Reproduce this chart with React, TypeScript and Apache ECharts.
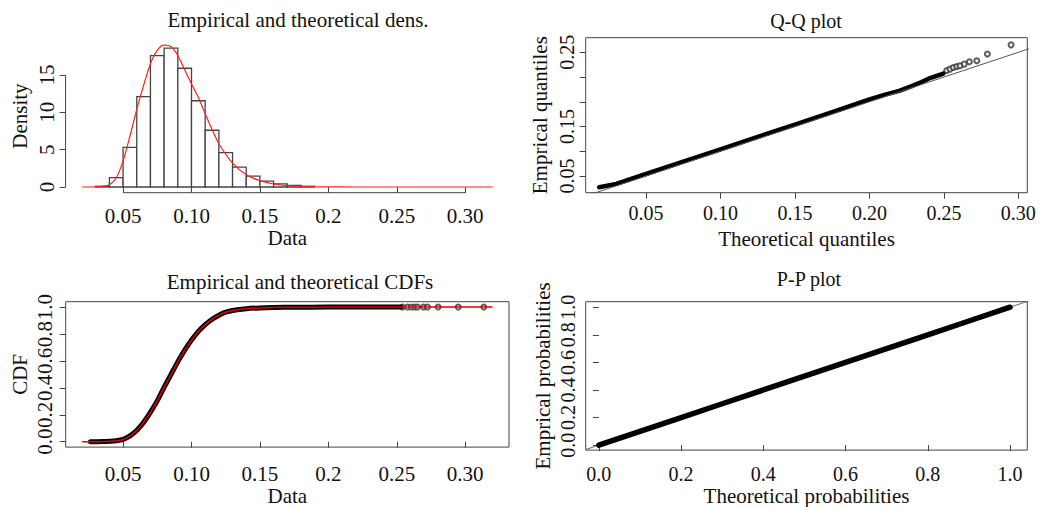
import React, { useEffect, useRef } from "react";
import * as echarts from "echarts";

const FONT = "Liberation Serif";

// ---------- Panel 1: histogram + density ----------
const histBinStart = [0.03, 0.04, 0.05, 0.06, 0.07, 0.08, 0.09, 0.10, 0.11, 0.12, 0.13, 0.14, 0.15, 0.16, 0.17, 0.18];
const histBinWidth = 0.01;
const histDensity = [0.1, 1.25, 5.3, 12.1, 17.6, 18.6, 15.9, 11.55, 7.6, 4.6, 2.65, 1.45, 0.78, 0.43, 0.22, 0.1];
const densCurveX = [0.02, 0.03, 0.035, 0.04, 0.045, 0.05, 0.055, 0.06, 0.065, 0.07, 0.075, 0.08, 0.085, 0.09, 0.095, 0.10, 0.105, 0.11, 0.115, 0.12, 0.13, 0.14, 0.15, 0.16, 0.17, 0.18, 0.19, 0.20, 0.22, 0.25, 0.32];
const densCurveY = [0, 0.03, 0.1, 0.3, 1.2, 3.5, 6.8, 10.4, 13.6, 16.5, 18.3, 19.0, 18.8, 17.6, 15.7, 13.8, 12.0, 9.8, 7.7, 5.8, 3.2, 1.65, 0.85, 0.4, 0.18, 0.08, 0.035, 0.015, 0.003, 0, 0];
const densXTicks = [0.05, 0.10, 0.15, 0.20, 0.25, 0.30];
const densXLabels = ["0.05", "0.10", "0.15", "0.2", "0.25", "0.30"];
const densYTicks = [0, 5, 10, 15];
const densYLabels = ["0", "5", "10", "15"];

// ---------- Panel 2: Q-Q ----------
const qqBandX = [0.0186, 0.03, 0.05, 0.075, 0.10, 0.125, 0.15, 0.175, 0.20, 0.21, 0.22, 0.228, 0.235, 0.2407, 0.2496];
const qqBandY = [0.0272, 0.034, 0.054, 0.079, 0.104, 0.129, 0.154, 0.179, 0.205, 0.214, 0.222, 0.231, 0.240, 0.248, 0.2571];
const qqTailX = [0.2519, 0.2541, 0.2563, 0.2586, 0.2608, 0.2637, 0.2671, 0.2721, 0.2792, 0.2951];
const qqTailY = [0.2632, 0.266, 0.2692, 0.2713, 0.2727, 0.2761, 0.2808, 0.2828, 0.2966, 0.315];
const qqLineX = [0.0, 0.35];
const qqLineY = [0.0, 0.35];
const qqXTicks = [0.05, 0.10, 0.15, 0.20, 0.25, 0.30];
const qqXLabels = ["0.05", "0.10", "0.15", "0.20", "0.25", "0.30"];
const qqYTicks = [0.05, 0.10, 0.15, 0.20, 0.25, 0.30];
// label positions as printed in the reference (top label sits at the last tick)
const qqYLabelValues = [0.05, 0.15, 0.30];
const qqYLabels = ["0.05", "0.15", "0.25"];

// ---------- Panel 3: CDF ----------
const cdfEmpX = [0.026, 0.035, 0.04, 0.045, 0.05, 0.055, 0.06, 0.065, 0.07, 0.075, 0.08, 0.085, 0.09, 0.095, 0.10, 0.105, 0.11, 0.115, 0.12, 0.125, 0.13, 0.14, 0.15, 0.16, 0.175, 0.20, 0.225, 0.253];
const cdfEmpY = [0, 0.001, 0.003, 0.007, 0.017, 0.043, 0.085, 0.145, 0.22, 0.305, 0.405, 0.5, 0.595, 0.68, 0.755, 0.82, 0.87, 0.91, 0.94, 0.962, 0.975, 0.988, 0.994, 0.997, 0.999, 1, 1, 1];
const cdfTailX = [0.2541, 0.2578, 0.2607, 0.2631, 0.2651, 0.2695, 0.2724, 0.2802, 0.2949, 0.3136];
const cdfTailY = [1, 1, 1, 1, 1, 1, 1, 1, 1, 1];
const cdfTheoX = [0.02, 0.03, 0.035, 0.04, 0.045, 0.05, 0.055, 0.06, 0.065, 0.07, 0.075, 0.08, 0.085, 0.09, 0.095, 0.10, 0.105, 0.11, 0.115, 0.12, 0.125, 0.13, 0.14, 0.15, 0.16, 0.175, 0.20, 0.32];
const cdfTheoY = [0, 0.0002, 0.001, 0.003, 0.007, 0.017, 0.043, 0.085, 0.145, 0.22, 0.305, 0.405, 0.5, 0.595, 0.68, 0.755, 0.82, 0.87, 0.91, 0.94, 0.962, 0.975, 0.988, 0.994, 0.997, 0.999, 1, 1];
const cdfYTicks = [0, 0.2, 0.4, 0.6, 0.8, 1.0];
const cdfYLabels = ["0.0", "0.2", "0.4", "0.6", "0.8", "1.0"];

// ---------- Panel 4: P-P ----------
const ppX = [0, 0.1, 0.2, 0.3, 0.4, 0.5, 0.6, 0.7, 0.8, 0.9, 1.0];
const ppY = [0, 0.1, 0.2, 0.3, 0.4, 0.5, 0.6, 0.7, 0.8, 0.9, 1.0];
const ppLineX = [-0.1, 1.1];
const ppLineY = [-0.1, 1.1];
const ppTicks = [0, 0.2, 0.4, 0.6, 0.8, 1.0];
const ppLabels = ["0.0", "0.2", "0.4", "0.6", "0.8", "1.0"];

const zip = (a: number[], b: number[]) => a.map((v, i) => [v, b[i]]);
const fmt = (ticks: number[], labels: string[]) => (v: number) => {
  const i = ticks.findIndex((t) => Math.abs(t - v) < 1e-9);
  return i >= 0 ? labels[i] : "";
};

const AXIS_COLOR = "#444";
const txt = (size: number) => ({ fontFamily: FONT, fontSize: size, color: "#111" });

function xAxis(grid: number, min: number, max: number, ticks: number[], labels: string[], margin: number, name: string, nameGap: number, size: number, nameSize: number) {
  return {
    type: "value", gridIndex: grid, min, max,
    splitLine: { show: false },
    axisLine: { show: false },
    axisTick: { show: true, customValues: ticks, length: 6, lineStyle: { color: AXIS_COLOR } },
    axisLabel: { customValues: ticks, formatter: fmt(ticks, labels), margin, ...txt(size) },
    name, nameLocation: "middle", nameGap, nameTextStyle: { ...txt(nameSize) },
  };
}
function yAxis(grid: number, min: number, max: number, ticks: number[], labelVals: number[], labels: string[], margin: number, name: string, nameGap: number, size: number, nameSize: number) {
  return {
    type: "value", gridIndex: grid, min, max,
    splitLine: { show: false },
    axisLine: { show: false },
    axisTick: { show: true, customValues: ticks, length: 6, lineStyle: { color: AXIS_COLOR } },
    axisLabel: { customValues: labelVals, formatter: fmt(labelVals, labels), margin, rotate: 90, ...txt(size) },
    name, nameLocation: "middle", nameGap, nameRotate: 90, nameTextStyle: { ...txt(nameSize) },
  };
}

export default function App() {
  const ref = useRef<HTMLDivElement>(null);
  useEffect(() => {
    if (!ref.current) return;
    const chart = echarts.init(ref.current, null, { renderer: "svg" });
    const densYMin = -0.76, densYMax = 19.76;
    const titleStyle = (text: string, size: number) => ({ text, align: "center", verticalAlign: "middle", font: `${size}px "${FONT}"`, fill: "#111" });
    const option: any = {
      animation: false,
      backgroundColor: "#fff",
      grid: [
        { left: 65.6, top: 39.4, width: 443.4, height: 153.3, show: false },
        { left: 585.7, top: 37.7, width: 441.6, height: 155, show: true, borderColor: AXIS_COLOR, borderWidth: 1 },
        { left: 65.7, top: 301.7, width: 443.3, height: 152.3, show: true, borderColor: AXIS_COLOR, borderWidth: 1 },
        { left: 585.7, top: 301.7, width: 441.6, height: 152.3, show: true, borderColor: AXIS_COLOR, borderWidth: 1 },
      ],
      xAxis: [
        xAxis(0, 0.008, 0.332, densXTicks, densXLabels, 13, "Data", 34, 21, 21),
        xAxis(1, 0.0095, 0.306, qqXTicks, qqXLabels, 10, "Theoretical quantiles", 36, 20, 21),
        xAxis(2, 0.008, 0.332, densXTicks, densXLabels, 16, "Data", 33, 21, 21),
        xAxis(3, -0.032, 1.042, ppTicks, ppLabels, 14, "Theoretical probabilities", 28, 20, 21),
      ],
      yAxis: [
        yAxis(0, densYMin, densYMax, densYTicks, densYTicks, densYLabels, 8, "Density", 35, 21, 21),
        yAxis(1, 0.0162, 0.3295, qqYTicks, qqYLabelValues, qqYLabels, 9, "Emprical quantiles", 35, 20, 21),
        yAxis(2, -0.04, 1.04, cdfYTicks, cdfYTicks, cdfYLabels, 10, "CDF", 35, 21, 21),
        yAxis(3, -0.036, 1.04, ppTicks, ppTicks, ppLabels, 8, "Emprical probabilities", 32, 20, 21),
      ],
      graphic: [
        { type: "text", x: 298, y: 20, style: titleStyle("Empirical and theoretical dens.", 21) },
        { type: "text", x: 806, y: 20.5, style: titleStyle("Q-Q plot", 20) },
        { type: "text", x: 300, y: 282, style: titleStyle("Empirical and theoretical CDFs", 21) },
        { type: "text", x: 809, y: 279, style: titleStyle("P-P plot", 20) },
      ],
      series: [
        {
          type: "custom", xAxisIndex: 0, yAxisIndex: 0,
          data: histBinStart.map((s, i) => [s, s + histBinWidth, histDensity[i]]),
          renderItem: (params: any, api: any) => {
            const p0 = api.coord([api.value(0), 0]);
            const p1 = api.coord([api.value(1), api.value(2)]);
            return {
              type: "rect",
              shape: { x: p0[0], y: p1[1], width: p1[0] - p0[0], height: p0[1] - p1[1] },
              style: { fill: "#fff", stroke: "#444", lineWidth: 1.3 },
            };
          },
        },
        {
          type: "line", xAxisIndex: 0, yAxisIndex: 0, data: zip(densCurveX, densCurveY),
          smooth: 0.3, showSymbol: false, lineStyle: { color: "#ff2020", width: 1.2 },
        },
        {
          type: "line", xAxisIndex: 0, yAxisIndex: 0, clip: false,
          data: [[densXTicks[0], densYMin], [densXTicks[densXTicks.length - 1], densYMin]],
          showSymbol: false, lineStyle: { color: AXIS_COLOR, width: 1 },
        },
        {
          type: "line", xAxisIndex: 0, yAxisIndex: 0, clip: false,
          data: [[0.008, densYTicks[0]], [0.008, densYTicks[densYTicks.length - 1]]],
          showSymbol: false, lineStyle: { color: AXIS_COLOR, width: 1 },
        },
        {
          type: "line", xAxisIndex: 1, yAxisIndex: 1, data: zip(qqBandX, qqBandY),
          showSymbol: false, lineStyle: { color: "#000", width: 4.5, cap: "round", join: "round" },
        },
        {
          type: "scatter", xAxisIndex: 1, yAxisIndex: 1, data: zip(qqTailX, qqTailY),
          symbol: "emptyCircle", symbolSize: 5, itemStyle: { color: "#333", borderWidth: 0.9 },
        },
        {
          type: "line", xAxisIndex: 1, yAxisIndex: 1, data: zip(qqLineX, qqLineY),
          showSymbol: false, lineStyle: { color: "#555", width: 1 },
        },
        {
          type: "line", xAxisIndex: 2, yAxisIndex: 2, data: zip(cdfEmpX, cdfEmpY),
          smooth: 0.25, showSymbol: false, lineStyle: { color: "#000", width: 5, cap: "round", join: "round" },
        },
        {
          type: "scatter", xAxisIndex: 2, yAxisIndex: 2, data: zip(cdfTailX, cdfTailY),
          symbol: "emptyCircle", symbolSize: 5, itemStyle: { color: "#333", borderWidth: 0.9 },
        },
        {
          type: "line", xAxisIndex: 2, yAxisIndex: 2, data: zip(cdfTheoX, cdfTheoY),
          smooth: 0.25, showSymbol: false, lineStyle: { color: "#e00000", width: 1.5 },
        },
        {
          type: "line", xAxisIndex: 3, yAxisIndex: 3, data: zip(ppLineX, ppLineY),
          showSymbol: false, lineStyle: { color: "#666", width: 1 },
        },
        {
          type: "line", xAxisIndex: 3, yAxisIndex: 3, data: zip(ppX, ppY),
          showSymbol: false, lineStyle: { color: "#000", width: 5.5, cap: "round" },
        },
      ],
    };
    chart.setOption(option);
    return () => chart.dispose();
  }, []);
  return <div ref={ref} style={{ width: 1044, height: 507, position: "absolute", left: 0, top: 0 }} />;
}
